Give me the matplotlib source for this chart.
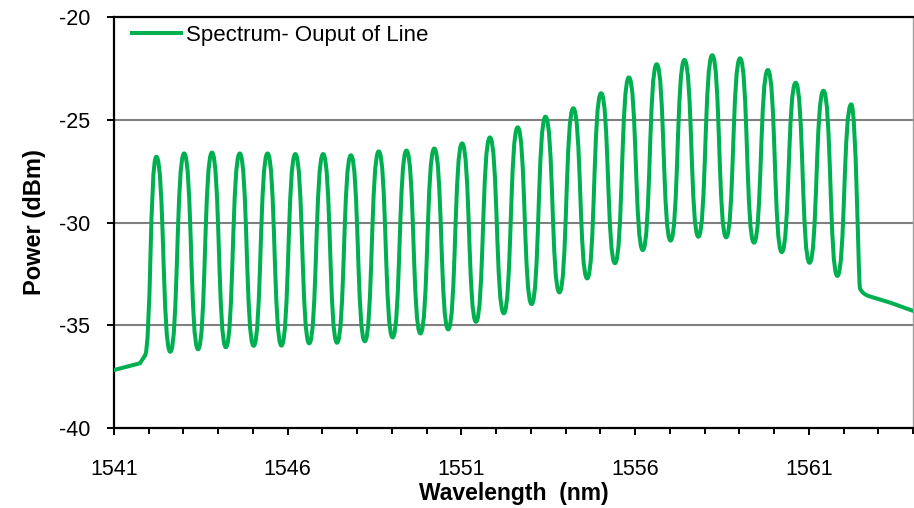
import matplotlib
matplotlib.use("Agg")
import matplotlib.pyplot as plt
from matplotlib.path import Path
from matplotlib.patches import PathPatch
from matplotlib.lines import Line2D
from matplotlib.ticker import MultipleLocator

plt.rcParams['font.family'] = ['Liberation Sans', 'DejaVu Sans']
plt.rcParams['axes.unicode_minus'] = False

# Comb lines of the output spectrum (nm, dBm)
peak_wl = [1542.22, 1543.02, 1543.82, 1544.62, 1545.42, 1546.22, 1547.02,
           1547.82, 1548.62, 1549.42, 1550.22, 1551.02, 1551.82, 1552.62,
           1553.42, 1554.22, 1555.02, 1555.82, 1556.62, 1557.42, 1558.22,
           1559.02, 1559.82, 1560.62, 1561.42, 1562.22]
peak_dbm = [-26.80, -26.64, -26.60, -26.64, -26.64, -26.67, -26.67, -26.73,
            -26.54, -26.50, -26.40, -26.15, -25.86, -25.37, -24.85, -24.44,
            -23.71, -22.94, -22.30, -22.09, -21.86, -22.01, -22.58, -23.20,
            -23.59, -24.25]
# Minima between neighbouring lines
trough_dbm = [-36.29, -36.17, -36.07, -36.00, -35.99, -35.88, -35.85, -35.78,
              -35.59, -35.40, -35.20, -34.83, -34.42, -33.97, -33.40, -32.72,
              -31.98, -31.34, -30.88, -30.69, -30.72, -30.98, -31.44, -31.96,
              -32.60]
# Noise floor outside the comb
lead_wl = [1541.0, 1541.75, 1541.88]
lead_dbm = [-37.18, -36.85, -36.50]
tail_wl = [1562.47, 1562.76, 1563.34, 1564.0]
tail_dbm = [-33.20, -33.60, -33.90, -34.30]

x_ticks = [1541, 1546, 1551, 1556, 1561]
y_ticks = [-40, -35, -30, -25, -20]

GREEN = '#00B050'

fig = plt.figure(figsize=(9.14, 5.08), dpi=100)
ax = fig.add_axes([0.1247, 0.1575, 0.8743, 0.809])

# Extrema sequence: knee, peak, trough, peak, ..., peak
ext_x = [lead_wl[-1]]
ext_y = [lead_dbm[-1]]
for i, (px, py) in enumerate(zip(peak_wl, peak_dbm)):
    ext_x.append(px)
    ext_y.append(py)
    if i < len(trough_dbm):
        ext_x.append((px + peak_wl[i + 1]) / 2)
        ext_y.append(trough_dbm[i])

verts = [(lead_wl[0], lead_dbm[0])]
codes = [Path.MOVETO]
for x, y in zip(lead_wl[1:], lead_dbm[1:]):
    verts.append((x, y))
    codes.append(Path.LINETO)
h = 0.55
for (x0, y0), (x1, y1) in zip(zip(ext_x[:-1], ext_y[:-1]), zip(ext_x[1:], ext_y[1:])):
    dx = x1 - x0
    verts += [(x0 + h * dx, y0), (x1 - h * dx, y1), (x1, y1)]
    codes += [Path.CURVE4] * 3
# Fall-off after the last line into the floor
x0, y0 = ext_x[-1], ext_y[-1]
x1, y1 = tail_wl[0], tail_dbm[0]
verts += [(x0 + 0.55 * (x1 - x0), y0), (x1 - 0.05, y1 + 0.6), (x1, y1)]
codes += [Path.CURVE4] * 3
x2, y2 = tail_wl[1], tail_dbm[1]
verts += [(x1 + 0.06, y1 - 0.25), (x2 - 0.1, y2 + 0.05), (x2, y2)]
codes += [Path.CURVE4] * 3
for x, y in zip(tail_wl[2:], tail_dbm[2:]):
    verts.append((x, y))
    codes.append(Path.LINETO)

ax.add_patch(PathPatch(Path(verts, codes), fill=False, edgecolor=GREEN,
                       lw=2.9, joinstyle='round', capstyle='round', zorder=3))

ax.set_xlim(1541, 1564)
ax.set_ylim(-40, -20)
ax.set_xticks(x_ticks)
ax.set_xticklabels([str(v) for v in x_ticks])
ax.xaxis.set_minor_locator(MultipleLocator(1))
ax.set_yticks(y_ticks)
ax.set_yticklabels([str(v) for v in y_ticks])

for yv in (-25, -30, -35):
    ax.axhline(yv, color='#808080', lw=1.5, zorder=1)

for s in ('left', 'bottom', 'top'):
    ax.spines[s].set_color('black')
    ax.spines[s].set_linewidth(1.6)
ax.spines['right'].set_color('#a0a0a0')
ax.spines['right'].set_linewidth(1.0)

ax.tick_params(axis='both', which='major', direction='out', length=5,
               width=1.4, labelsize=15.5, color='black')
ax.tick_params(axis='x', which='major', pad=17)
ax.tick_params(axis='y', which='major', pad=12)
ax.tick_params(axis='x', which='minor', direction='out', length=4, width=1.4)
ax.tick_params(top=False, right=False, which='both')

ax.set_xlabel('Wavelength  (nm)', fontsize=16.5, fontweight='bold', labelpad=2)
ax.set_ylabel('Power (dBm)', fontsize=17, fontweight='bold', labelpad=9)

handle = Line2D([], [], color=GREEN, lw=2.9)
ax.legend([handle], ['Spectrum- Ouput of Line'], loc='upper left',
          bbox_to_anchor=(0.0225, 0.98), frameon=False, fontsize=16,
          borderpad=0, handlelength=2.2, handletextpad=0.25, borderaxespad=0)

fig.savefig('out.png', dpi=100)
